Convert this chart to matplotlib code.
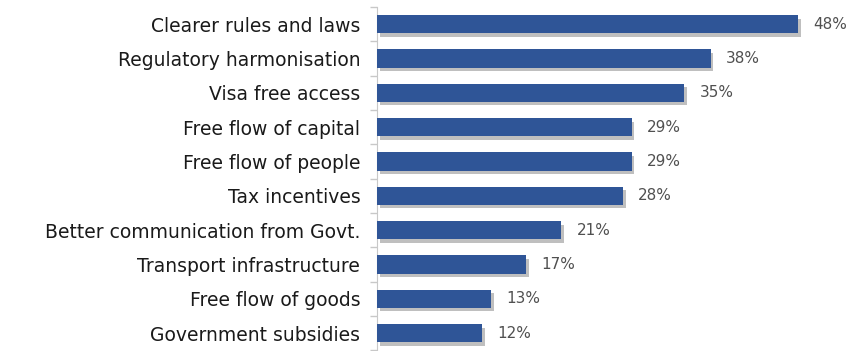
import numpy as np
import matplotlib.pyplot as plt
import matplotlib.patheffects as pe

labels = ['Clearer rules and laws', 'Regulatory harmonisation', 'Visa free access',
          'Free flow of capital', 'Free flow of people', 'Tax incentives',
          'Better communication from Govt.', 'Transport infrastructure',
          'Free flow of goods', 'Government subsidies']
values = [48, 38, 35, 29, 29, 28, 21, 17, 13, 12]

plt.rcParams['font.family'] = ['DejaVu Sans']

fig = plt.figure(figsize=(8.51, 3.51), dpi=100)
ax = fig.add_axes([377/851, 0.0, 474/851, (351-7)/351])

y = np.arange(len(labels))
bars = ax.barh(y, values, height=0.53, color='#2F5597', zorder=3)
for b in bars:
    b.set_path_effects([pe.SimplePatchShadow(offset=(2, -2.5), shadow_rgbFace='black', alpha=0.25),
                        pe.Normal()])

for yi, v in zip(y, values):
    ax.annotate(f'{v}%', (v, yi), xytext=(11, 0), textcoords='offset points',
                va='center', ha='left', fontsize=11, color='#505050')

ax.set_xlim(0, 54)
ax.set_ylim(9.52, -0.5)
ax.set_yticks(y)
ax.set_yticklabels(labels, fontsize=13.5, color='#1a1a1a')
ax.set_yticks(np.arange(-0.5, 10, 1), minor=True)
ax.tick_params(axis='y', which='major', length=0, pad=12)
ax.tick_params(axis='y', which='minor', length=5, color='#c8c8c8', width=1)
ax.set_xticks([])
for s in ['top', 'right', 'bottom']:
    ax.spines[s].set_visible(False)
ax.spines['left'].set_color('#c8c8c8')

fig.savefig('out.png', dpi=100)
